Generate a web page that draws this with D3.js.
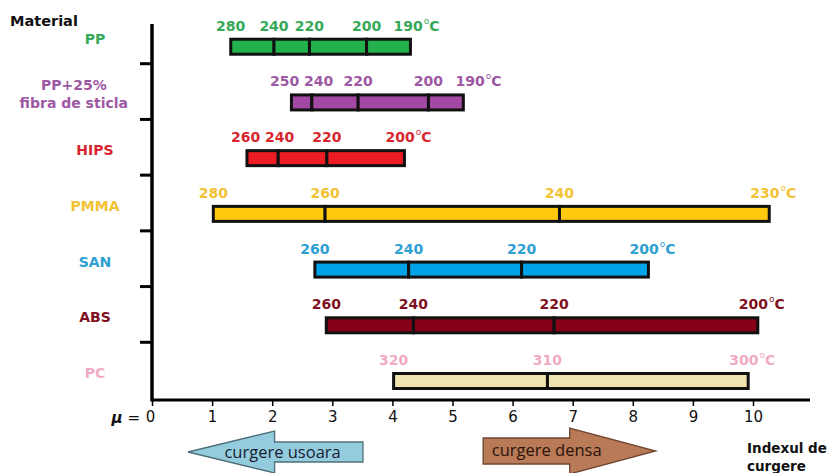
<!DOCTYPE html>
<html>
<head>
<meta charset="utf-8">
<script src="https://cdn.jsdelivr.net/npm/d3@7"></script>
<style>
  html, body { margin: 0; padding: 0; background: #fff; }
  svg { display: block; }
</style>
</head>
<body>
<script>
// ---------- DATA ----------
const materials = ["PP", "PP+25% fibra de sticla", "HIPS", "PMMA", "SAN", "ABS", "PC"];
const materialLabels = [["PP"], ["PP+25%", "fibra de sticla"], ["HIPS"], ["PMMA"], ["SAN"], ["ABS"], ["PC"]];

// flow index (x) at which each processing temperature is reached
const ppIndex   = [1.31, 2.03, 2.62, 3.57, 4.30];
const ppTemps   = [280, 240, 220, 200, 190];
const fibIndex  = [2.32, 2.66, 3.43, 4.60, 5.18];
const fibTemps  = [250, 240, 220, 200, 190];
const hipsIndex = [1.58, 2.10, 2.91, 4.20];
const hipsTemps = [260, 240, 220, 200];
const pmmaIndex = [1.02, 2.88, 6.78, 10.27];
const pmmaTemps = [280, 260, 240, 230];
const sanIndex  = [2.71, 4.27, 6.15, 8.26];
const sanTemps  = [260, 240, 220, 200];
const absIndex  = [2.90, 4.35, 6.69, 10.08];
const absTemps  = [260, 240, 220, 200];
const pcIndex   = [4.02, 6.58, 9.92];
const pcTemps   = [320, 310, 300];

const xTicks = [0, 1, 2, 3, 4, 5, 6, 7, 8, 9, 10];
const arrowLeft  = { from: 3.51, headBase: 2.04, tip: 0.6,  label: "curgere usoara" };
const arrowRight = { from: 5.51, headBase: 6.95, tip: 8.38, label: "curgere densa" };

// ---------- STYLE ----------
const labelColors = ["#35a957", "#9d58a4", "#d7262f", "#f2c232", "#2ea0d2", "#7f1020", "#f0aac4"];
const barColors   = ["#22b14c", "#a349a4", "#ed1c24", "#ffc90e", "#00a2e8", "#880015", "#efe4b0"];

const series = [
  [ppIndex, ppTemps], [fibIndex, fibTemps], [hipsIndex, hipsTemps], [pmmaIndex, pmmaTemps],
  [sanIndex, sanTemps], [absIndex, absTemps], [pcIndex, pcTemps]
];

const W = 832, H = 473;
const svg = d3.select("body").append("svg").attr("width", W).attr("height", H);

const x = d3.scaleLinear().domain([0, 10]).range([152, 753]);
const y = d3.scaleBand().domain(materials).range([8, 398]);
const barCenter = m => y(m) + y.bandwidth() * 0.695;
const barH = 15;
const axisY = 400, axisTop = 24;

const boldFont = "DejaVu Sans";

// ---------- Y axis ----------
svg.append("line").attr("x1", x(0)).attr("x2", x(0)).attr("y1", axisTop).attr("y2", axisY + 1.5)
  .attr("stroke", "#000").attr("stroke-width", 3.5);
materials.slice(0, -1).forEach(m => {
  const yy = y(m) + y.bandwidth();
  svg.append("line").attr("x1", x(0) - 12).attr("x2", x(0)).attr("y1", yy).attr("y2", yy)
    .attr("stroke", "#000").attr("stroke-width", 3);
});

// ---------- X axis ----------
const xAxis = d3.axisBottom(x).tickValues(xTicks).tickSize(6).tickPadding(5)
  .tickFormat(d => d === 0 ? "0" : d);
const gx = svg.append("g").attr("transform", `translate(0,${axisY})`).call(xAxis);
gx.select(".domain").remove();
gx.selectAll(".tick line").attr("stroke", "#000").attr("stroke-width", 1.5);
gx.selectAll(".tick text").attr("font-family", "DejaVu Sans").attr("font-size", 15).attr("fill", "#111");
gx.selectAll(".tick text").filter(d => d === 0).attr("dx", "-2");
svg.append("text").attr("x", x(0) - 12).attr("y", 423).attr("text-anchor", "end")
  .attr("font-family", "DejaVu Sans").attr("font-size", 15).attr("fill", "#111")
  .html('<tspan font-style="italic" font-weight="bold">\u03bc</tspan> =');
svg.append("line").attr("x1", x(0)).attr("x2", 810).attr("y1", axisY).attr("y2", axisY)
  .attr("stroke", "#000").attr("stroke-width", 3);

// ---------- Title-ish labels ----------
svg.append("text").attr("x", 10).attr("y", 26).text("Material")
  .attr("font-family", boldFont).attr("font-weight", "bold").attr("font-size", 14.5).attr("fill", "#111");

// ---------- Category labels ----------
materials.forEach((m, i) => {
  const lines = materialLabels[i];
  const c = barCenter(m) - 8;
  const t = svg.append("text").attr("font-family", boldFont).attr("font-weight", "bold")
    .attr("font-size", 14).attr("fill", labelColors[i]).attr("text-anchor", "middle");
  const lh = 18;
  lines.forEach((ln, k) => {
    t.append("tspan").attr("x", 95).attr("y", c + (k - (lines.length - 1) / 2) * lh).attr("dy", "0.36em").text(ln);
  });
  const bb = t.node().getBBox();
  if (bb.x + bb.width > 128) {
    const shift = bb.x + bb.width - 128;
    t.selectAll("tspan").attr("x", 95 - shift);
  }
});

// ---------- Bars ----------
materials.forEach((m, i) => {
  const [vals, temps] = series[i];
  const cy = barCenter(m);
  const segs = d3.pairs(vals);
  svg.append("g").selectAll("rect").data(segs).join("rect")
    .attr("x", d => x(d[0])).attr("width", d => x(d[1]) - x(d[0]))
    .attr("y", cy - barH / 2).attr("height", barH)
    .attr("fill", barColors[i]).attr("stroke", "#111").attr("stroke-width", 3);

  // temperature labels
  const pos = vals.map(v => x(v));
  const n = pos.length;
  const inner = pos.slice(0, n - 1);
  const minGap = 34;
  for (let it = 0; it < 5; it++) {
    for (let k = 0; k < inner.length - 1; k++) {
      const gap = inner[k + 1] - inner[k];
      if (gap < minGap) {
        const mid = (inner[k] + inner[k + 1]) / 2;
        inner[k] = mid - minGap / 2;
        inner[k + 1] = mid + minGap / 2;
      }
    }
  }
  const baseY = cy - 16;
  const g = svg.append("g").attr("font-family", boldFont).attr("font-weight", "bold")
    .attr("font-size", 14).attr("fill", labelColors[i]);
  inner.forEach((px, k) => {
    g.append("text").attr("x", px).attr("y", baseY).attr("text-anchor", "middle").text(temps[k]);
  });
  const lastX = Math.max(pos[n - 1] - 19, inner[inner.length - 1] + 27);
  const last = g.append("text").attr("x", lastX).attr("y", baseY);
  last.append("tspan").text(temps[n - 1]);
  last.append("tspan").attr("font-size", 9).attr("dy", -7).attr("dx", 1).attr("font-weight", "normal").text("o");
  last.append("tspan").attr("dy", 7).text("C");
});

// ---------- Arrows ----------
function arrow(a, cy, shaftHalf, headHalf, fill, stroke) {
  const p = d3.path();
  const xf = x(a.from), xb = x(a.headBase), xt = x(a.tip);
  p.moveTo(xf, cy - shaftHalf);
  p.lineTo(xb, cy - shaftHalf);
  p.lineTo(xb, cy - headHalf);
  p.lineTo(xt, cy);
  p.lineTo(xb, cy + headHalf);
  p.lineTo(xb, cy + shaftHalf);
  p.lineTo(xf, cy + shaftHalf);
  p.closePath();
  svg.append("path").attr("d", p.toString()).attr("fill", fill).attr("stroke", stroke).attr("stroke-width", 1.3);
}
arrow(arrowLeft, 452, 10, 21, "#93cddd", "#4f6f7a");
arrow(arrowRight, 451, 13, 23, "#b97a57", "#6e4530");

svg.append("text").attr("x", x(arrowLeft.headBase) + 8).attr("y", 452)
  .attr("dy", "0.35em").attr("text-anchor", "middle")
  .attr("font-family", "Open Sans").attr("font-size", 16.5).attr("fill", "#1b1b33").text(arrowLeft.label);
svg.append("text").attr("x", x(arrowRight.headBase) - 23).attr("y", 450)
  .attr("dy", "0.35em").attr("text-anchor", "middle")
  .attr("font-family", "Open Sans").attr("font-size", 16.5).attr("fill", "#2a140a").text(arrowRight.label);

// ---------- Axis title ----------
const at = svg.append("text").attr("font-family", boldFont).attr("font-weight", "bold")
  .attr("font-size", 13.5).attr("fill", "#111");
at.append("tspan").attr("x", 747).attr("y", 453).text("Indexul de");
at.append("tspan").attr("x", 747).attr("y", 471).text("curgere");
</script>
</body>
</html>
